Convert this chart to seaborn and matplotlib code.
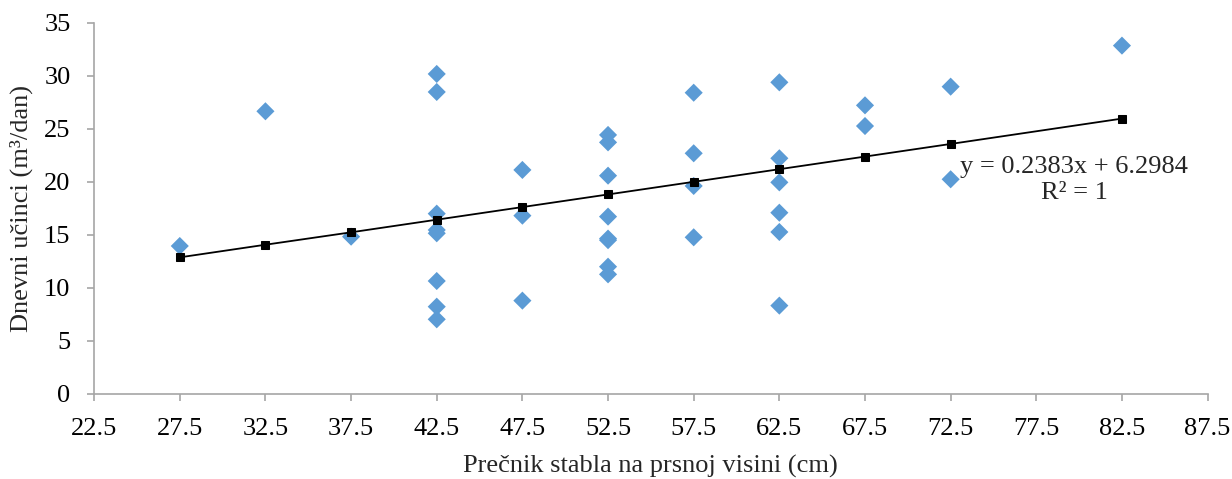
import numpy as np
import pandas as pd
import matplotlib
matplotlib.use("Agg")
import matplotlib.pyplot as plt
import seaborn as sns

# ==========================================
# DATA
# ==========================================
# measured points: diameter at breast height vs daily output
diam = [27.5, 32.5, 37.5,
        42.5, 42.5, 42.5, 42.5, 42.5, 42.5, 42.5, 42.5,
        47.5, 47.5, 47.5,
        52.5, 52.5, 52.5, 52.5, 52.5, 52.5, 52.5, 52.5,
        57.5, 57.5, 57.5, 57.5,
        62.5, 62.5, 62.5, 62.5, 62.5, 62.5,
        67.5, 67.5,
        72.5, 72.5,
        82.5]
output = [13.95, 26.65, 14.83,
          30.17, 28.47, 17.0, 15.46, 15.15, 10.65, 8.23, 7.04,
          21.12, 16.81, 8.80,
          24.42, 23.72, 20.58, 16.72, 14.65, 14.5, 12.0, 11.28,
          28.4, 22.69, 19.61, 14.77,
          29.38, 22.22, 19.95, 17.09, 15.27, 8.33,
          27.21, 25.26,
          28.97, 20.24,
          32.84]

# trend series (black squares)
trend_x = [27.5, 32.5, 37.5, 42.5, 47.5, 52.5, 57.5, 62.5, 67.5, 72.5, 82.5]
trend_y = [12.88, 14.07, 15.24, 16.43, 17.62, 18.81, 20.0, 21.19, 22.38, 23.57, 25.96]

x_ticks = [22.5, 27.5, 32.5, 37.5, 42.5, 47.5, 52.5, 57.5, 62.5, 67.5, 72.5, 77.5, 82.5, 87.5]
y_ticks = [0, 5, 10, 15, 20, 25, 30, 35]

eq_text = "y = 0.2383x + 6.2984\nR² = 1"

df = pd.DataFrame({"diam": diam, "output": output})
df_trend = pd.DataFrame({"x": trend_x, "y": trend_y})

# ==========================================
# PLOT
# ==========================================
sns.set_style("ticks")
plt.rcParams['font.family'] = ['Liberation Serif', 'DejaVu Serif']
plt.rcParams['font.size'] = 19

fig = plt.figure(figsize=(12.32, 4.79), dpi=100)
ax = fig.add_axes([0.0764, 0.1775, 0.9802 - 0.0764, 0.9526 - 0.1775])

sns.scatterplot(data=df, x="diam", y="output", marker="D", s=85,
                color="#5B9BD5", edgecolor="none", ax=ax, zorder=2)
sns.lineplot(data=df_trend, x="x", y="y", color="black", linewidth=1.3,
             marker="s", markersize=5.5, markeredgecolor="black",
             ax=ax, zorder=3)

ax.set_xlim(22.5, 87.5)
ax.set_ylim(0, 35)
ax.set_xticks(x_ticks)
ax.set_xticklabels([f"{v:.1f}" for v in x_ticks])
ax.set_yticks(y_ticks)

for side in ["top", "right"]:
    ax.spines[side].set_visible(False)
for side in ["left", "bottom"]:
    ax.spines[side].set_color("#A6A6A6")
    ax.spines[side].set_linewidth(1.2)

ax.tick_params(axis="both", colors="#A6A6A6", labelcolor="black",
               labelsize=19, length=5, width=1.2, direction="out")
ax.tick_params(axis="y", pad=12)
ax.tick_params(axis="x", pad=12)

ax.set_xlabel("Prečnik stabla na prsnoj visini (cm)", fontsize=19, labelpad=11)
ax.set_ylabel("Dnevni učinci (m³/dan)", fontsize=19, labelpad=8)

ax.text(79.7, 20.2, eq_text, fontsize=19, ha="center", va="center",
        linespacing=1.25, zorder=4)

plt.savefig("out.png", dpi=100)
